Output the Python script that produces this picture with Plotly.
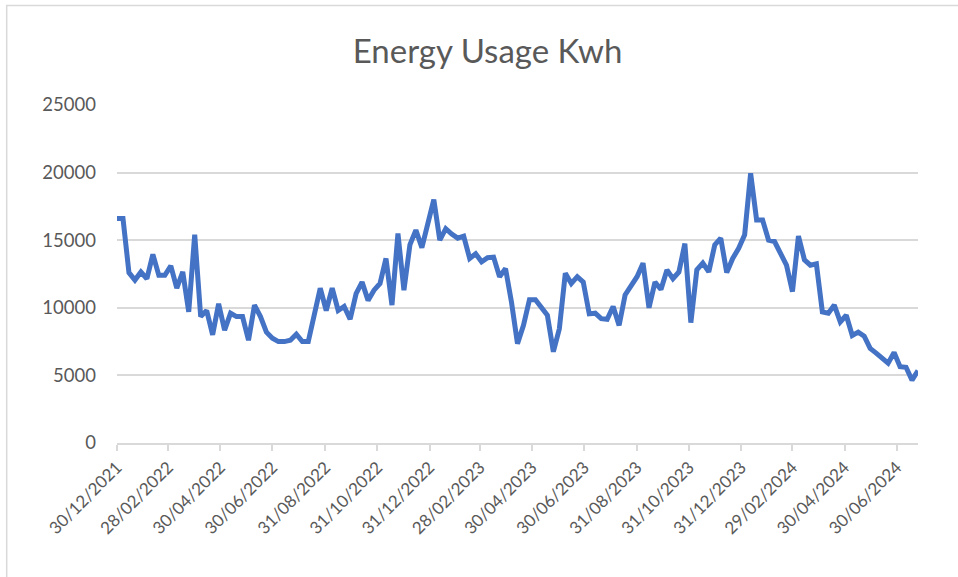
import pandas as pd
import plotly.graph_objects as go

# Weekly energy usage (kWh), first reading 30/12/2021
start_date = "2021-12-30"
usage_kwh = [
    16600, 16600, 12600, 12050, 12650, 12150, 13950, 12400, 12400, 13100,
    11450, 12650, 9700, 15400, 9350, 9800, 8000, 10300, 8350, 9600,
    9350, 9350, 7600, 10200, 9350, 8200, 7750, 7500, 7500, 7600,
    8050, 7500, 7500, 9700, 11450, 9800, 11450, 9800, 10100, 9150,
    11050, 11900, 10550, 11300, 11800, 13650, 10200, 15500, 11300, 14650,
    15750, 14450, 16350, 18000, 15000, 15850, 15450, 15150, 15300, 13650,
    14000, 13400, 13700, 13750, 12300, 12900, 10400, 7350, 8700, 10600,
    10600, 9950, 9450, 6750, 8450, 12550, 11800, 12300, 11900, 9550,
    9600, 9200, 9150, 10100, 8700, 10950, 11600, 12300, 13300, 10000,
    11900, 11350, 12800, 12150, 12650, 14750, 8900, 12800, 13300, 12650,
    14650, 15150, 12600, 13650, 14400, 15400, 19950, 16500, 16500, 15000,
    14900, 14050, 13150, 11200, 15300, 13550, 13150, 13250, 9700, 9600,
    10200, 8950, 9450, 7950, 8200, 7900, 7000, 6650, 6300, 5900,
    6700, 5650, 5600, 4650, 5350,
]

# x-axis tick dates as shown on the chart
tick_dates = [
    "2021-12-30", "2022-02-28", "2022-04-30", "2022-06-30", "2022-08-31",
    "2022-10-31", "2022-12-31", "2023-02-28", "2023-04-30", "2023-06-30",
    "2023-08-31", "2023-10-31", "2023-12-31", "2024-02-29", "2024-04-30",
    "2024-06-30",
]
y_ticks = [0, 5000, 10000, 15000, 20000, 25000]

dates = pd.date_range(start_date, periods=len(usage_kwh), freq="7D")
tick_labels = [pd.Timestamp(d).strftime("%d/%m/%Y") for d in tick_dates]

grey_text = "#595959"
grid = "#d9d9d9"
font_name = "Lato, Open Sans, sans-serif"

fig = go.Figure(go.Scatter(
    x=dates, y=usage_kwh, mode="lines",
    line=dict(color="#4472C4", width=5),
))

fig.update_layout(
    width=958, height=577,
    margin=dict(l=117, r=40, t=105, b=134, autoexpand=False),
    paper_bgcolor="white", plot_bgcolor="white",
    showlegend=False,
    font=dict(family=font_name, color=grey_text),
    title=dict(text="Energy Usage Kwh", x=0.509, xanchor="center",
               y=1 - 51 / 577, yanchor="middle",
               font=dict(size=33, color=grey_text, family=font_name)),
)

fig.update_xaxes(
    range=[dates[0], dates[-1]],
    tickvals=pd.to_datetime(tick_dates), ticktext=tick_labels,
    tickangle=-45, tickfont=dict(size=17, color=grey_text),
    showgrid=False, showline=True, linecolor=grid, linewidth=1.5,
    ticks="outside", ticklen=6, tickcolor=grid, tickwidth=1.5,
    zeroline=False, automargin=False,
)
fig.update_yaxes(
    range=[0, 25000], tickvals=y_ticks, ticktext=[str(v) for v in y_ticks],
    tickfont=dict(size=18.5, color=grey_text),
    showgrid=True, gridcolor=grid, gridwidth=1.5,
    showline=False, zeroline=False, ticks="", ticklabelstandoff=20,
    automargin=False,
)

# chart frame
fig.add_shape(type="rect", xref="paper", yref="paper",
              x0=-0.1377, x1=1.1, y0=-0.45, y1=1.2944,
              line=dict(color=grid, width=1.5), layer="below")

# remove the default page margin so the figure sits at the window's corner
fig.write_html("out.html", config={"displayModeBar": False},
               post_script="document.body.style.margin='0';")
